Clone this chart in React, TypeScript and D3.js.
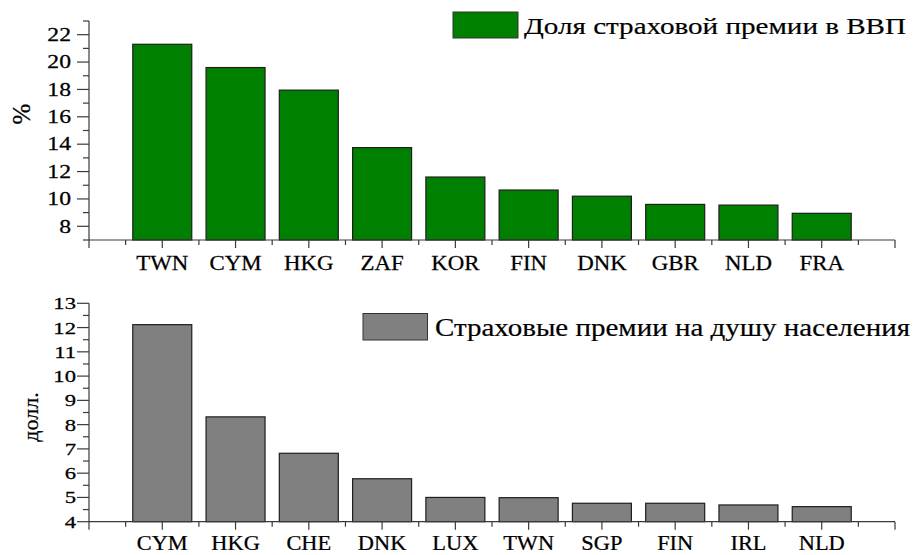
import React from "react";
import { scaleLinear, range } from "d3";

// top panel: share of insurance premium in GDP, %
const shareCountries = ["TWN", "CYM", "HKG", "ZAF", "KOR", "FIN", "DNK", "GBR", "NLD", "FRA"];
const shareValues = [21.3, 19.6, 17.95, 13.75, 11.6, 10.65, 10.2, 9.6, 9.55, 8.95];
const shareTicks = [8, 10, 12, 14, 16, 18, 20, 22];

// bottom panel: premiums per capita
const perCapitaCountries = ["CYM", "HKG", "CHE", "DNK", "LUX", "TWN", "SGP", "FIN", "IRL", "NLD"];
const perCapitaValues = [12.12, 8.32, 6.82, 5.77, 5.0, 4.99, 4.76, 4.76, 4.69, 4.62];
const perCapitaTicks = [4, 5, 6, 7, 8, 9, 10, 11, 12, 13];

const FONT = "Liberation Serif, Times New Roman, serif";
const AXIS = "#3a3a3a";
const INK = "#000";

type PanelProps = {
  cats: string[];
  values: number[];
  ticks: number[];
  minor: number[];
  domain: [number, number];
  top: number;
  bottom: number;
  fill: string;
  legend: { x: number; y: number; w: number; h: number; text: string; tx: number; ty: number; len: number; size: number };
  title: { text: string; x: number; y: number; size: number };
  yLabelSize: number;
  yLabelRight: number;
  xLabelSize: number;
  xLabelScale: number;
  xLabelBase: number;
};

function Panel(p: PanelProps) {
  const x = scaleLinear().domain([0, p.cats.length + 1]).range([89, 895]);
  const y = scaleLinear().domain(p.domain).range([p.bottom, p.top]);
  const step = x(1) - x(0);
  const barW = step * 0.805;

  return (
    <g>
      {/* bars */}
      {p.values.map((v, i) => (
        <rect
          key={p.cats[i]}
          x={x(i + 1) - barW / 2}
          y={y(v)}
          width={barW}
          height={p.bottom - y(v)}
          fill={p.fill}
          stroke="#1e1e1e"
          strokeWidth={1.2}
        />
      ))}

      {/* y axis */}
      <line x1={89} x2={89} y1={p.top} y2={p.bottom} stroke={AXIS} strokeWidth={1.2} />
      {p.ticks.map((t) => (
        <g key={"t" + t}>
          <line x1={77} x2={89} y1={y(t)} y2={y(t)} stroke={AXIS} strokeWidth={1.2} />
          <text
            transform={`translate(${p.yLabelRight},${y(t) + p.yLabelSize * 0.34}) scale(1.28,1)`}
            textAnchor="end"
            fontFamily={FONT}
            fontSize={p.yLabelSize}
            fill={INK}
            stroke={INK}
            strokeWidth={0.25}
          >
            {t}
          </text>
        </g>
      ))}
      {p.minor.map((t) => (
        <line key={"m" + t} x1={83} x2={89} y1={y(t)} y2={y(t)} stroke={AXIS} strokeWidth={1.2} />
      ))}

      {/* x axis */}
      <line x1={89} x2={895} y1={p.bottom} y2={p.bottom} stroke={AXIS} strokeWidth={1.2} />
      {range(0, p.cats.length + 2).map((i) => (
        <line key={"xt" + i} x1={x(i)} x2={x(i)} y1={p.bottom} y2={p.bottom + 8} stroke={AXIS} strokeWidth={1.2} />
      ))}
      {range(0, p.cats.length + 1).map((i) => (
        <line key={"xm" + i} x1={x(i + 0.5)} x2={x(i + 0.5)} y1={p.bottom} y2={p.bottom + 5} stroke={AXIS} strokeWidth={1.2} />
      ))}
      {p.cats.map((c, i) => (
        <text
          key={"xl" + c}
          transform={`translate(${x(i + 1)},${p.xLabelBase}) scale(${p.xLabelScale},1)`}
          textAnchor="middle"
          fontFamily={FONT}
          fontSize={p.xLabelSize}
          fill={INK}
          stroke={INK}
          strokeWidth={0.25}
        >
          {c}
        </text>
      ))}

      {/* axis title */}
      <text
        transform={`translate(${p.title.x},${p.title.y}) rotate(-90)`}
        textAnchor="middle"
        fontFamily={FONT}
        fontSize={p.title.size}
        fill={INK}
        stroke={INK}
        strokeWidth={0.25}
      >
        {p.title.text}
      </text>

      {/* legend */}
      <rect
        x={p.legend.x}
        y={p.legend.y}
        width={p.legend.w}
        height={p.legend.h}
        fill={p.fill}
        stroke="#333"
        strokeWidth={1}
      />
      <text
        x={p.legend.tx}
        y={p.legend.ty}
        fontFamily={FONT}
        fontSize={p.legend.size}
        textLength={p.legend.len}
        lengthAdjust="spacingAndGlyphs"
        fill={INK}
        stroke={INK}
        strokeWidth={0.2}
      >
        {p.legend.text}
      </text>
    </g>
  );
}

export default function App() {
  return (
    <svg
      width={913}
      height={555}
      style={{ position: "absolute", left: 0, top: 0, background: "#fff" }}
    >
      <Panel
        cats={shareCountries}
        values={shareValues}
        ticks={shareTicks}
        minor={range(7, 24, 2)}
        domain={[7, 23]}
        top={21}
        bottom={240}
        fill="#008000"
        legend={{ x: 453, y: 12, w: 65, h: 26, text: "Доля страховой премии в ВВП", tx: 524, ty: 34, len: 382, size: 24 }}
        title={{ text: "%", x: 30, y: 114, size: 25 }}
        yLabelSize={18.5}
        yLabelRight={71}
        xLabelSize={21}
        xLabelScale={1.09}
        xLabelBase={270}
      />
      <Panel
        cats={perCapitaCountries}
        values={perCapitaValues}
        ticks={perCapitaTicks}
        minor={range(4.5, 13, 1)}
        domain={[4, 13]}
        top={303.3}
        bottom={521.7}
        fill="#808080"
        legend={{ x: 363, y: 313.5, w: 64.5, h: 26.5, text: "Страховые премии на душу населения", tx: 435, ty: 336, len: 475, size: 25 }}
        title={{ text: "долл.", x: 38, y: 417, size: 22 }}
        yLabelSize={17.7}
        yLabelRight={76}
        xLabelSize={20}
        xLabelScale={1.12}
        xLabelBase={550}
      />
    </svg>
  );
}
